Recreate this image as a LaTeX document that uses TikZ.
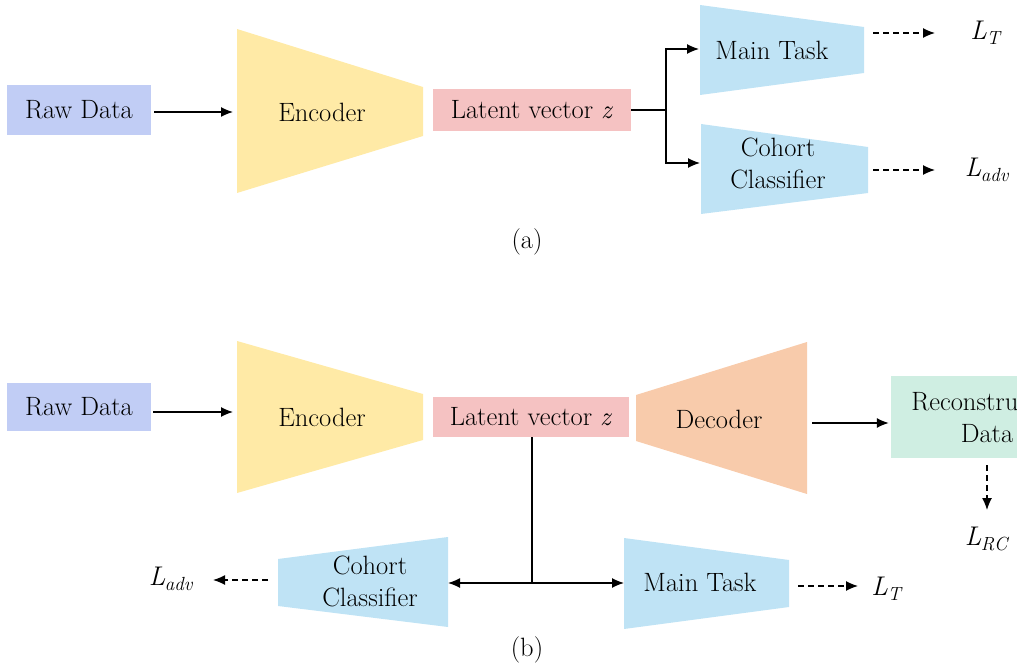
\documentclass[tikz,border=0pt]{standalone}
\usepackage{fontspec}
\usetikzlibrary{arrows.meta}
\definecolor{rawc}{HTML}{C1CDF5}
\definecolor{encc}{HTML}{FFEAA6}
\definecolor{latc}{HTML}{F5C2C2}
\definecolor{taskc}{HTML}{BFE3F5}
\definecolor{decc}{HTML}{F8CBAB}
\definecolor{recc}{HTML}{CFEEE2}
\newcommand{\lossname}[2]{\textit{#1}\kern-0.5pt\raisebox{-5pt}{\fontsize{19}{19}\selectfont\textit{#2}}}
\begin{document}
\begin{tikzpicture}[x=1pt,y=-1pt,
  lbl/.style={font=\rmfamily\fontsize{26.5}{32}\selectfont, align=center, inner sep=0pt, text=black},
  blk/.style={lbl, rectangle},
  arr/.style={line width=1.3pt, -{Latex[length=12pt,width=10pt]}},
  darr/.style={arr, dash pattern=on 6pt off 4pt},
  plain/.style={line width=1.3pt},
  loss/.style={font=\rmfamily\fontsize{27}{29}\selectfont, inner sep=0pt}]
\useasboundingbox (0,0) rectangle (1017,668);
\clip (0,0) rectangle (1017,668);

% ---------------- (a) ----------------
\node[blk, fill=rawc, minimum width=144pt, minimum height=50pt] (rawA) at (79,110) {Raw Data};
\fill[encc] (237,29) -- (423,87) -- (423,136) -- (237,193) -- cycle;
\node[lbl] (encA) at (322,112) {Encoder};
\coordinate (encAin) at (237,112);
\node[blk, fill=latc, minimum width=198pt, minimum height=42pt] (latA) at (532,110) {Latent vector \textit{z}};
\coordinate (brA) at (666,110);
\fill[taskc] (700,5) -- (864,27) -- (864,73) -- (700,95) -- cycle;
\node[lbl] (mtA) at (772,50) {Main Task};
\coordinate (mtAin) at (700,49);
\fill[taskc] (701,124) -- (868,147) -- (868,193) -- (701,214) -- cycle;
\node[lbl] (ccA) at (778,163) {Cohort\\Classifier};
\coordinate (ccAin) at (701,163);
\coordinate (mtAout) at (873,33);
\coordinate (mtAend) at (935,33);
\node[loss] (LTA) at (986,33) {\lossname{L}{T}};
\coordinate (ccAout) at (873,170);
\coordinate (ccAend) at (935,170);
\node[loss] (LadvA) at (987,170) {\lossname{L}{adv}};
\node[lbl] (capA) at (527,242) {(a)};

\draw[arr, shorten <=3pt, shorten >=4pt] (rawA.east |- encAin) -- (encAin);
\draw[plain] (latA.east) -- (brA);
\draw[arr, shorten >=1pt] (brA) |- (mtAin);
\draw[arr, shorten >=1pt] (brA) |- (ccAin);
\draw[darr] (mtAout) -- (mtAend);
\draw[darr] (ccAout) -- (ccAend);

% ---------------- (b) ----------------
\node[blk, fill=rawc, minimum width=144pt, minimum height=48pt] (rawB) at (79,407) {Raw Data};
\fill[encc] (237,341) -- (423,394) -- (423,440) -- (237,493) -- cycle;
\node[lbl] (encB) at (322,417) {Encoder};
\coordinate (encBin) at (237,412);
\node[blk, fill=latc, minimum width=196pt, minimum height=40pt] (latB) at (531,417) {Latent vector \textit{z}};
\fill[decc] (636,395) -- (807,342) -- (807,494) -- (636,441) -- cycle;
\node[lbl] (decB) at (719,419) {Decoder};
\coordinate (decBout) at (812,423);
\node[blk, fill=recc, minimum width=192pt, minimum height=82pt] (recB) at (987,417) {Reconstructed\\Data};
\coordinate (recBout) at (987,465);
\coordinate (recBend) at (987,510);
\node[loss] (LRC) at (987,539) {\lossname{L}{RC}};
\coordinate (latBdown) at (532,437);
\coordinate (brB) at (532,583);
\fill[taskc] (278,559) -- (448,537) -- (448,627) -- (278,606) -- cycle;
\node[lbl] (ccB) at (370,581) {Cohort\\Classifier};
\coordinate (ccBin) at (448,583);
\coordinate (ccBout) at (268,580);
\coordinate (ccBend) at (213,580);
\node[loss] (LadvB) at (171,579) {\lossname{L}{adv}};
\fill[taskc] (624,538) -- (789,560) -- (789,607) -- (624,629) -- cycle;
\node[lbl] (mtB) at (700,582) {Main Task};
\coordinate (mtBin) at (624,583);
\coordinate (mtBout) at (798,586);
\coordinate (mtBend) at (858,586);
\node[loss] (LTB) at (887,589) {\lossname{L}{T}};
\node[lbl] (capB) at (527,650) {(b)};

\draw[arr, shorten <=2pt, shorten >=4pt] (rawB.east |- encBin) -- (encBin);
\draw[arr, shorten >=2pt] (decBout) -- (recB.west |- decBout);
\draw[darr] (recBout) -- (recBend);
\draw[plain] (latBdown) -- (brB);
\draw[arr] (brB) -- (ccBin);
\draw[arr] (brB) -- (mtBin);
\draw[darr] (ccBout) -- (ccBend);
\draw[darr] (mtBout) -- (mtBend);
\end{tikzpicture}
\end{document}
